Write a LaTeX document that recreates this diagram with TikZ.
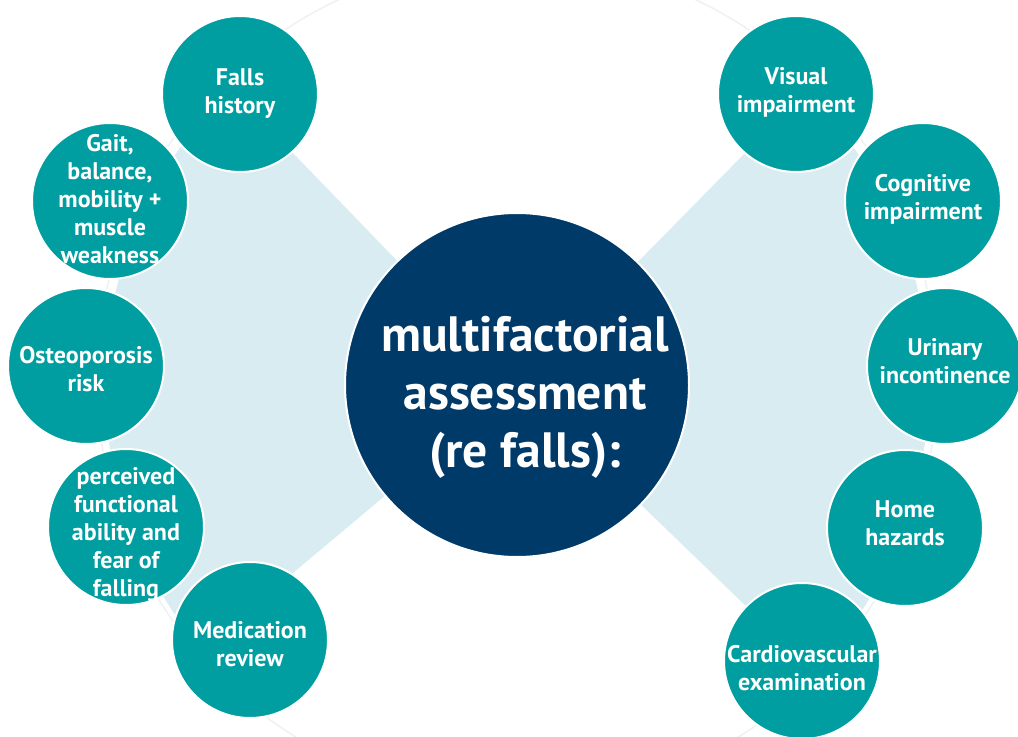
\documentclass[tikz,border=0pt]{standalone}
\usepackage{fontspec}
\setmainfont{PT Sans}
\definecolor{tealc}{RGB}{0,158,160}
\definecolor{navyc}{RGB}{0,58,104}
\definecolor{lbluec}{RGB}{216,236,242}
\definecolor{faintc}{RGB}{238,242,243}
\begin{document}
\begin{tikzpicture}[x=0.5pt,y=0.5pt,
  bub/.style={circle, fill=tealc, draw=white, line width=1pt, minimum size=78pt, inner sep=0pt},
  bubt/.style={text=white, align=center, inner sep=0pt,
    font=\bfseries\fontsize{12}{14}\selectfont},
  hubc/.style={circle, fill=navyc, draw=white, line width=1pt, minimum size=172pt, inner sep=0pt},
  hubt/.style={text=white, align=center, inner sep=0pt,
    font=\bfseries\fontsize{24.8}{29}\selectfont},
  sector/.style={fill=lbluec}]
\useasboundingbox (0,0) rectangle (1018,736);
\clip (0,0) rectangle (1018,736);
\coordinate (c) at (517,351);
\coordinate (fc) at (517,356);
% faint outer ring
\draw[faintc, line width=0.8pt] (fc) circle[radius=420];
% light blue sectors
\fill[sector] (c) -- ++(134:412) arc[start angle=134, end angle=220, radius=412] -- cycle;
\fill[sector] (c) -- ++(-44:412) arc[start angle=-44, end angle=45.5, radius=412] -- cycle;
% hub
\node[hubc] (hub) at (c) {};
\node[hubt] (hubtext) at (525,339) {multifactorial\\assessment\\(re falls):};
% left bubbles
\node[bub] (falls) at (240,642) {};
\node[bub] (gait) at (110,535) {};
\node[bub] (osteo) at (86,370) {};
\node[bub] (perc) at (126,209) {};
\node[bub] (med) at (250,96) {};
% right bubbles
\node[bub] (visual) at (796,642) {};
\node[bub] (cog) at (923,535) {};
\node[bub] (urin) at (945,370) {};
\node[bub] (home) at (905,208) {};
\node[bub] (cardio) at (802,75) {};
% bubble texts
\node[bubt] (falls-t) at ([yshift=0pt]falls) {Falls\\history};
\node[bubt] (gait-t) at ([yshift=1pt]gait) {Gait,\\balance,\\mobility +\\muscle\\weakness};
\node[bubt] (osteo-t) at ([yshift=-1.5pt]osteo) {Osteoporosis\\risk};
\node[bubt] (perc-t) at ([yshift=-4pt]perc) {perceived\\functional\\ability and\\fear of\\falling};
\node[bubt] (med-t) at ([yshift=-2pt]med) {Medication\\review};
\node[bubt] (visual-t) at ([yshift=1pt]visual) {Visual\\impairment};
\node[bubt] (cog-t) at ([yshift=1pt]cog) {Cognitive\\impairment};
\node[bubt] (urin-t) at ([yshift=2.5pt]urin) {Urinary\\incontinence};
\node[bubt] (home-t) at ([yshift=2.5pt]home) {Home\\hazards};
\node[bubt] (cardio-t) at ([yshift=-3.5pt]cardio) {Cardiovascular\\examination};
\end{tikzpicture}
\end{document}
